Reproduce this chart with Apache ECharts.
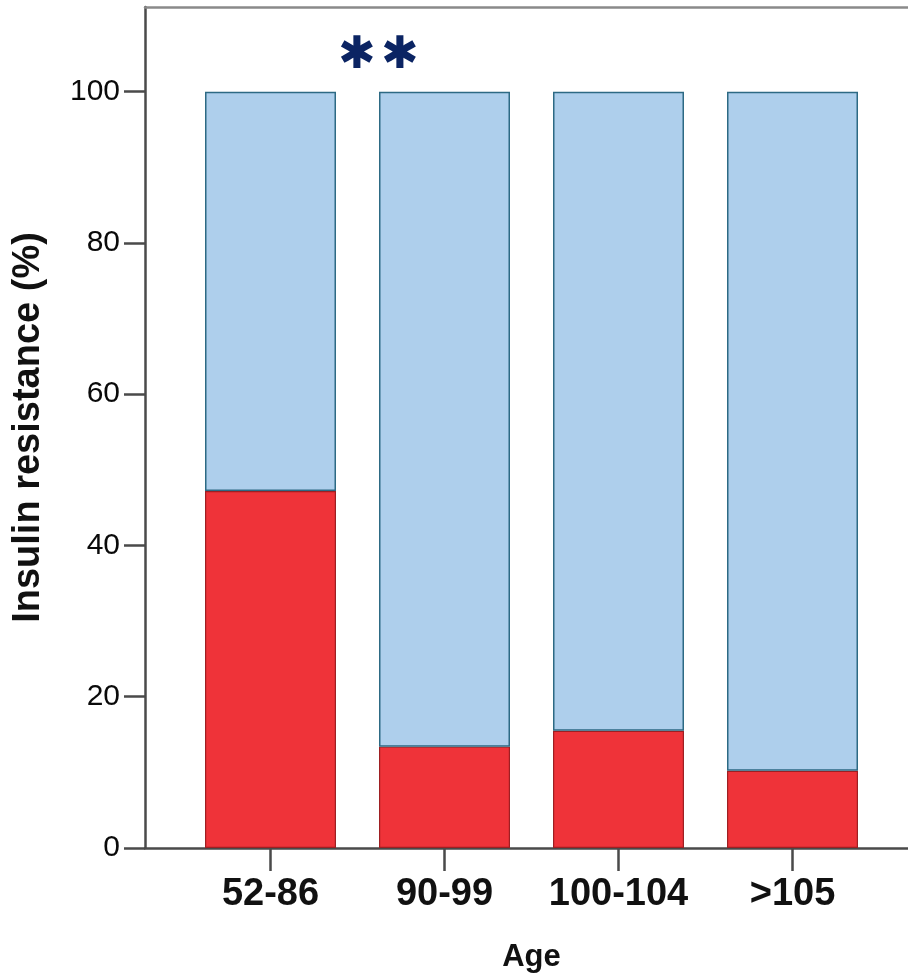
<!DOCTYPE html>
<html>
<head>
<meta charset="utf-8">
<script src="https://cdn.jsdelivr.net/npm/echarts@6/dist/echarts.min.js"></script>
<style>
  html, body { margin: 0; padding: 0; background: #fff; }
  #chart { width: 908px; height: 973px; }
</style>
</head>
<body>
<div id="chart"></div>
<script>
// Age groups and share of participants with / without insulin resistance (%)
const ageGroups = ['52-86', '90-99', '100-104', '>105'];
const resistant = [47.2, 13.4, 15.5, 10.2];
const notResistant = [52.8, 86.6, 84.5, 89.8];
const yTicks = [0, 20, 40, 60, 80, 100];

const Y_MAX = 111.2;
const axisGray = '#4a4a4a';
const font = 'Liberation Sans, Arial, sans-serif';

const chart = echarts.init(document.getElementById('chart'), null, { renderer: 'canvas' });

chart.setOption({
  animation: false,
  backgroundColor: '#ffffff',
  grid: [
    // frame: left axis, top border and baseline running off to the right
    { left: 145, top: 7, width: 900, bottom: 125, containLabel: false, outerBoundsMode: 'none' },
    // bar area
    { left: 183.5, top: 7, width: 696, bottom: 125, containLabel: false, outerBoundsMode: 'none' }
  ],
  xAxis: [
    {
      gridIndex: 0, type: 'value', min: 0, max: 1, position: 'bottom',
      axisLine: { show: true, lineStyle: { color: axisGray, width: 2.5 } },
      axisTick: { show: false }, axisLabel: { show: false }, splitLine: { show: false }
    },
    {
      gridIndex: 0, type: 'value', min: 0, max: 1, position: 'top',
      axisLine: { show: true, onZero: false, lineStyle: { color: '#8a8a8a', width: 2.5 } },
      axisTick: { show: false }, axisLabel: { show: false }, splitLine: { show: false }
    },
    {
      gridIndex: 1, type: 'category', data: ageGroups, position: 'bottom',
      axisLine: { show: false },
      axisTick: { show: true, alignWithLabel: true, length: 23, inside: false,
                  lineStyle: { color: axisGray, width: 2.5 } },
      axisLabel: { interval: 0, margin: 28, color: '#111', fontFamily: font,
                   fontWeight: 'bold', fontSize: 38 },
      name: 'Age', nameLocation: 'middle', nameGap: 94,
      nameTextStyle: { color: '#111', fontFamily: font, fontWeight: 'bold', fontSize: 31 }
    }
  ],
  yAxis: [
    {
      gridIndex: 0, type: 'value', min: 0, max: Y_MAX, interval: 20,
      axisLine: { show: true, lineStyle: { color: axisGray, width: 2.5 } },
      axisTick: { show: true, length: 21, customValues: yTicks,
                  lineStyle: { color: axisGray, width: 2.5 } },
      axisLabel: { margin: 25, customValues: yTicks, color: '#0a0a0a',
                   fontFamily: font, fontSize: 30 },
      splitLine: { show: false },
      name: 'Insulin resistance (%)', nameLocation: 'middle', nameGap: 97, nameRotate: 90,
      nameTextStyle: { color: '#111', fontFamily: font, fontWeight: 'bold', fontSize: 38 }
    },
    {
      gridIndex: 1, type: 'value', min: 0, max: Y_MAX, show: false
    }
  ],
  series: [
    {
      name: 'Insulin resistant', type: 'bar', stack: 'ir',
      xAxisIndex: 2, yAxisIndex: 1, barWidth: 131,
      itemStyle: { color: '#ef3339', borderColor: '#9e1f22', borderWidth: 1.2 },
      data: resistant
    },
    {
      name: 'Not insulin resistant', type: 'bar', stack: 'ir',
      xAxisIndex: 2, yAxisIndex: 1, barWidth: 131,
      itemStyle: { color: '#aecfec', borderColor: '#2d6a84', borderWidth: 1.5 },
      data: notResistant
    }
  ],
  // significance marker between the first two age groups
  graphic: [
    {
      type: 'text', x: 357, y: 56,
      style: { text: '✱', fill: '#0b2463', fontFamily: 'DejaVu Sans, sans-serif',
               fontSize: 45, align: 'center', verticalAlign: 'middle' }
    },
    {
      type: 'text', x: 400, y: 56,
      style: { text: '✱', fill: '#0b2463', fontFamily: 'DejaVu Sans, sans-serif',
               fontSize: 45, align: 'center', verticalAlign: 'middle' }
    }
  ]
});
</script>
</body>
</html>
